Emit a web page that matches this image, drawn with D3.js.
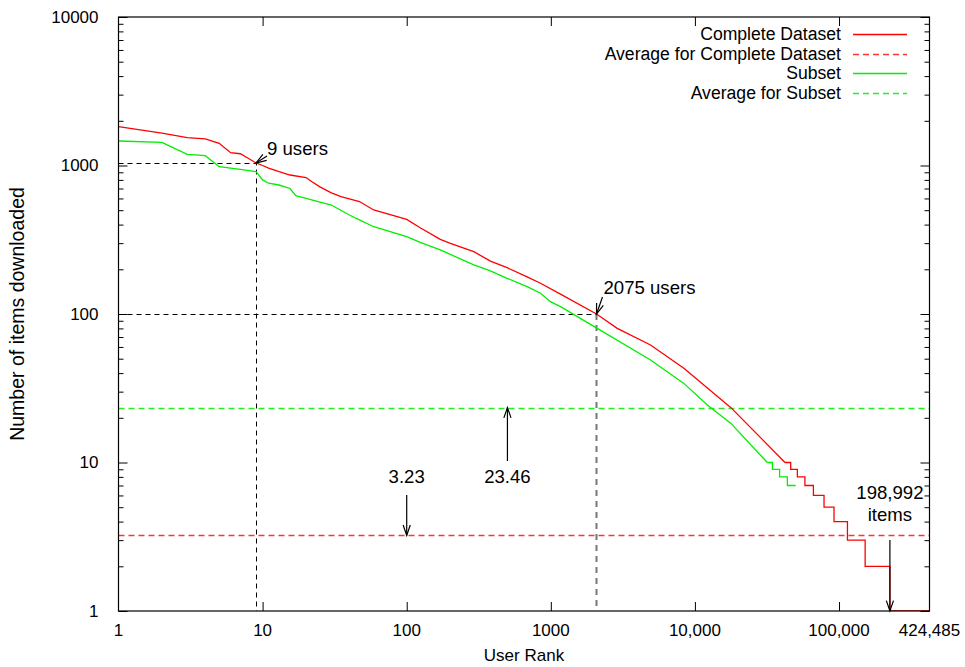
<!DOCTYPE html>
<html>
<head>
<meta charset="utf-8">
<script src="https://cdn.jsdelivr.net/npm/d3@7"></script>
<style>
  body { margin: 0; background: #fff; }
  svg { font-family: "Liberation Sans", Arial, sans-serif; }
</style>
</head>
<body>
<svg id="chart" width="965" height="667"></svg>
<script>
// values (user rank -> items downloaded)
const completeRanks = [1, 2, 3, 4, 5, 6, 7, 8, 9, 10, 11, 13, 15.5, 20, 22, 25, 30, 35, 47, 59, 100, 124, 171, 201, 292, 381, 497, 685, 848, 1167, 2075, 2890, 4920, 8380, 17700, 42200];
const completeItems = [1830, 1650, 1540, 1510, 1410, 1220, 1200, 1115, 1040, 1000, 960, 908, 863, 830, 778, 718, 655, 617, 572, 502, 434, 381, 318, 299, 263, 227, 205, 178, 161, 136, 100, 80, 61.8, 43.1, 23.5, 10];
// tail of the complete dataset, where the integer steps are visible
const completeStepRanks = [42200, 46200, 51400, 58000, 66400, 78700, 92300, 114400, 151800, 225493, 424485];
const completeStepItems = [10, 9, 8, 7, 6, 5, 4, 3, 2, 1, 1];

const subsetRanks = [1, 2, 3, 4, 5, 7, 9, 10, 11, 13, 15.5, 17, 20, 30, 40, 47, 59, 100, 124, 171, 292, 381, 497, 685, 848, 993, 1167, 2100, 4920, 8380, 12200, 17700, 31800];
const subsetItems = [1462, 1432, 1189, 1164, 982, 942, 910, 800, 760, 739, 700, 626, 600, 542, 464, 430, 387, 332, 304, 270, 214, 195, 174, 153, 138, 121, 112, 80, 49, 34.1, 24.4, 18.4, 10];
const subsetStepRanks = [31800, 34500, 38700, 43800, 50000];
const subsetStepItems = [10, 9, 8, 7, 7];

const avgComplete = 3.23;
const avgSubset = 23.46;

// annotated points
const markRanks = [9, 2075];
const markItems = [1040, 100];
const markLabels = ["9 users", "2075 users"];
const onesRank = 225493;
const onesLabel = ["198,992", "items"];
const avgLabelRanks = [100, 500];

const xTickValues = [1, 10, 100, 1000, 10000, 100000, 424485];
const xTickLabels = ["1", "10", "100", "1000", "10,000", "100,000", "424,485"];
const yTickValues = [1, 10, 100, 1000, 10000];

const legendLabels = ["Complete Dataset", "Average for Complete Dataset", "Subset", "Average for Subset"];
const legendColors = ["#ff0000", "#ff3333", "#00ee00", "#22ee22"];
const legendDashed = [false, true, false, true];

const svg = d3.select("#chart");
const plotLeft = 118.5, plotRight = 929.5, plotTop = 17, plotBottom = 611;

const x = d3.scaleLog().domain([1, 424485]).range([plotLeft, plotRight]);
const y = d3.scaleLog().domain([1, 10000]).range([plotBottom, plotTop]);

// snap a coordinate to the pixel centre so 1px dashes stay crisp
const px = v => Math.round(v) + 0.5;

svg.append("defs").append("clipPath").attr("id", "plot")
  .append("rect").attr("x", plotLeft).attr("y", plotTop - 1)
  .attr("width", plotRight - plotLeft).attr("height", plotBottom - plotTop + 1);

const plot = svg.append("g").attr("clip-path", "url(#plot)");

const lineLinear = d3.line().x(d => x(d[0])).y(d => y(d[1]));
const lineStep = d3.line().x(d => x(d[0])).y(d => y(d[1])).curve(d3.curveStepAfter);

// average lines
plot.append("line")
  .attr("x1", plotLeft).attr("x2", plotRight)
  .attr("y1", px(y(avgComplete))).attr("y2", px(y(avgComplete)))
  .attr("stroke", legendColors[1]).attr("stroke-width", 1.5).attr("stroke-dasharray", "6,4");
plot.append("line")
  .attr("x1", plotLeft).attr("x2", plotRight)
  .attr("y1", px(y(avgSubset))).attr("y2", px(y(avgSubset)))
  .attr("stroke", legendColors[3]).attr("stroke-width", 1.5).attr("stroke-dasharray", "6,4");

// guide lines to the marked points
plot.append("path")
  .attr("d", `M${plotLeft},${px(y(markItems[0]))}H${px(x(markRanks[0]))}V${plotBottom}`)
  .attr("fill", "none").attr("stroke", "#000").attr("stroke-dasharray", "5,4");
plot.append("path")
  .attr("d", `M${plotLeft},${px(y(markItems[1]))}H${px(x(markRanks[1]))}`)
  .attr("fill", "none").attr("stroke", "#000").attr("stroke-dasharray", "5,4");
plot.append("line")
  .attr("x1", x(markRanks[1])).attr("x2", x(markRanks[1]))
  .attr("y1", y(markItems[1])).attr("y2", plotBottom)
  .attr("stroke", "#777").attr("stroke-width", 2).attr("stroke-dasharray", "6,5");

// series
const subsetHead = subsetRanks.map((r, i) => [r, subsetItems[i]]);
const subsetTail = subsetStepRanks.map((r, i) => [r, subsetStepItems[i]]);
const completeHead = completeRanks.map((r, i) => [r, completeItems[i]]);
const completeTail = completeStepRanks.map((r, i) => [r, completeStepItems[i]]);

plot.append("path").attr("d", lineLinear(subsetHead))
  .attr("fill", "none").attr("stroke", legendColors[2]).attr("stroke-width", 1.3);
plot.append("path").attr("d", lineStep(subsetTail))
  .attr("fill", "none").attr("stroke", legendColors[2]).attr("stroke-width", 1.3);
plot.append("path").attr("d", lineLinear(completeHead))
  .attr("fill", "none").attr("stroke", legendColors[0]).attr("stroke-width", 1.3);
plot.append("path").attr("d", lineStep(completeTail))
  .attr("fill", "none").attr("stroke", legendColors[0]).attr("stroke-width", 1.3);

// arrows with an open V head
function arrow(x1, y1, x2, y2) {
  const a = Math.atan2(y2 - y1, x2 - x1);
  const len = 11, spread = 0.33;
  const g = svg.append("g").attr("stroke", "#000").attr("stroke-width", 1.2).attr("fill", "none");
  g.append("line").attr("x1", x1).attr("y1", y1).attr("x2", x2).attr("y2", y2);
  g.append("path").attr("d",
    `M${x2 - len * Math.cos(a - spread)},${y2 - len * Math.sin(a - spread)}` +
    `L${x2},${y2}` +
    `L${x2 - len * Math.cos(a + spread)},${y2 - len * Math.sin(a + spread)}`);
}

const labelFont = 18.6;

// "9 users" and "2075 users"
arrow(x(markRanks[0]) + 11, y(markItems[0]) - 7, x(markRanks[0]), y(markItems[0]));
svg.append("text").attr("x", x(markRanks[0]) + 11).attr("y", y(markItems[0]) - 8)
  .attr("font-size", labelFont).text(markLabels[0]);
arrow(x(markRanks[1]) + 6, y(markItems[1]) - 17, x(markRanks[1]), y(markItems[1]));
svg.append("text").attr("x", x(markRanks[1]) + 7).attr("y", y(markItems[1]) - 20)
  .attr("font-size", labelFont).text(markLabels[1]);

// averages
svg.append("text").attr("x", x(avgLabelRanks[0])).attr("y", 483)
  .attr("text-anchor", "middle").attr("font-size", labelFont).text(avgComplete.toFixed(2));
arrow(x(avgLabelRanks[0]), 495, x(avgLabelRanks[0]), y(avgComplete));
svg.append("text").attr("x", x(avgLabelRanks[1])).attr("y", 483)
  .attr("text-anchor", "middle").attr("font-size", labelFont).text(avgSubset.toFixed(2));
arrow(x(avgLabelRanks[1]), 461, x(avgLabelRanks[1]), y(avgSubset));

// users with a single item
svg.append("text").attr("x", x(onesRank)).attr("y", 499)
  .attr("text-anchor", "middle").attr("font-size", labelFont).text(onesLabel[0]);
svg.append("text").attr("x", x(onesRank)).attr("y", 521)
  .attr("text-anchor", "middle").attr("font-size", labelFont).text(onesLabel[1]);
arrow(x(onesRank), 540, x(onesRank), plotBottom);

// axes: ticks point inward, mirrored on all sides
const yMinor = y.ticks().filter(v => !yTickValues.includes(v));
const xMajor = xTickValues.slice(1, -1);

svg.append("g").attr("transform", `translate(${plotLeft},0)`)
  .call(d3.axisLeft(y).tickValues(yMinor).tickSize(-5).tickFormat(""));
svg.append("g").attr("transform", `translate(${plotRight},0)`)
  .call(d3.axisRight(y).tickValues(yMinor).tickSize(-5).tickFormat(""));
svg.append("g").attr("transform", `translate(${plotLeft},0)`)
  .call(d3.axisLeft(y).tickValues(yTickValues).tickSize(-9).tickPadding(20).tickFormat(d3.format("d")));
svg.append("g").attr("transform", `translate(${plotRight},0)`)
  .call(d3.axisRight(y).tickValues(yTickValues).tickSize(-9).tickFormat(""));
svg.append("g").attr("transform", `translate(0,${plotBottom})`)
  .call(d3.axisBottom(x).tickValues(xMajor).tickSize(-9).tickFormat(""));
svg.append("g").attr("transform", `translate(0,${plotTop})`)
  .call(d3.axisTop(x).tickValues(xMajor).tickSize(-9).tickFormat(""));

svg.selectAll(".domain").remove();
svg.selectAll(".tick line").attr("stroke", "#000");
svg.selectAll(".tick text").attr("font-size", 17).attr("fill", "#000")
  .attr("font-family", "Liberation Sans, Arial, sans-serif");

svg.append("g").selectAll("text")
  .data(xTickValues)
  .join("text")
  .attr("x", d => x(d))
  .attr("y", plotBottom + 25)
  .attr("text-anchor", "middle")
  .attr("font-size", 17)
  .text((d, i) => xTickLabels[i]);

svg.append("rect")
  .attr("x", plotLeft).attr("y", plotTop)
  .attr("width", plotRight - plotLeft).attr("height", plotBottom - plotTop)
  .attr("fill", "none").attr("stroke", "#000").attr("stroke-width", 1.2);

// axis titles
svg.append("text").attr("x", (plotLeft + plotRight) / 2).attr("y", 661)
  .attr("text-anchor", "middle").attr("font-size", 17).text("User Rank");
svg.append("text")
  .attr("transform", `translate(24,${(plotTop + plotBottom) / 2}) rotate(-90)`)
  .attr("text-anchor", "middle").attr("font-size", 19.5).text("Number of items downloaded");

// legend
const legend = svg.append("g").selectAll("g")
  .data(legendLabels)
  .join("g")
  .attr("transform", (d, i) => `translate(0,${Math.round(34 + i * 19.7)})`);
legend.append("text")
  .attr("x", 841).attr("y", 6)
  .attr("text-anchor", "end").attr("font-size", 17.6)
  .text(d => d);
legend.append("line")
  .attr("x1", 853).attr("x2", 907)
  .attr("y1", 0.5).attr("y2", 0.5)
  .attr("stroke", (d, i) => legendColors[i])
  .attr("stroke-width", 1.5)
  .attr("stroke-dasharray", (d, i) => legendDashed[i] ? "6,4" : null);
</script>
</body>
</html>
